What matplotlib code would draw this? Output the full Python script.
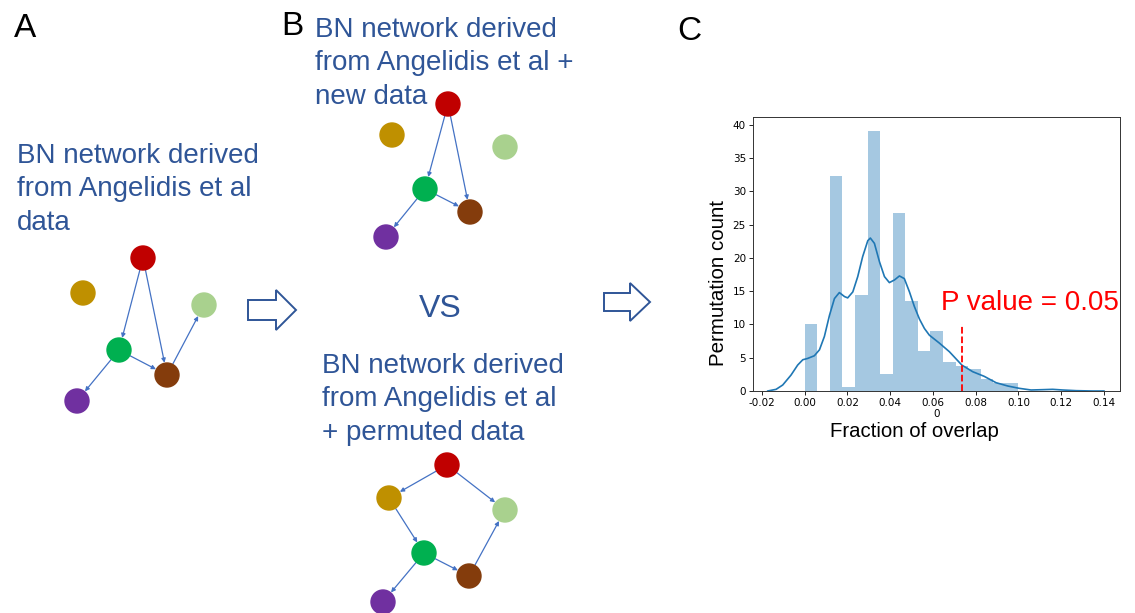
import numpy as np
import matplotlib
matplotlib.use("Agg")
import matplotlib.pyplot as plt
from matplotlib.patches import Circle, Polygon

# histogram (density)
bin_lo, bin_hi = 0.0, 0.1
bin_heights = [10.1, 0.0, 32.3, 0.65, 14.5, 39.1, 2.5, 26.8, 13.5, 6.0,
               9.0, 4.3, 3.7, 3.35, 1.85, 1.25, 1.25]
# kde curve
kde_x = [-0.0173, -0.0134, -0.0103, -0.0064, -0.0033, -0.0009, 0.0014, 0.0045,
         0.0069, 0.0092, 0.0116, 0.0139, 0.0162, 0.0186, 0.0201, 0.0225, 0.0248,
         0.0271, 0.0295, 0.0307, 0.0326, 0.0350, 0.0373, 0.0396, 0.0420, 0.0443,
         0.0466, 0.0490, 0.0513, 0.0537, 0.0560, 0.0583, 0.0630, 0.0677, 0.0735,
         0.0786, 0.0840, 0.0895, 0.0950, 0.1004, 0.1059, 0.1114, 0.1160, 0.1207,
         0.1270, 0.1347, 0.1400]
kde_y = [0, 0.25, 0.9, 2.4, 3.9, 4.7, 4.9, 5.3, 6.2, 8.2, 11.4, 13.9, 14.8, 14.2,
         14.0, 14.9, 17.2, 20.2, 22.6, 23.0, 22.2, 19.4, 17.2, 16.3, 16.7, 17.3,
         16.9, 14.9, 12.7, 10.8, 9.4, 8.4, 7.2, 5.9, 3.9, 2.9, 2.2, 1.25, 0.75,
         0.4, 0.15, 0.2, 0.25, 0.15, 0.05, 0, 0]
p_cut = 0.0735
p_cut_height = 10
x_ticks = [-0.02, 0.00, 0.02, 0.04, 0.06, 0.08, 0.10, 0.12, 0.14]
y_ticks = [0, 5, 10, 15, 20, 25, 30, 35, 40]

# network diagrams (node names, edges)
node_colors = {"red": "#C00000", "gold": "#BF9000", "lgreen": "#A9D18E",
               "green": "#00B050", "brown": "#843C0C", "purple": "#7030A0"}
net_a = {"red": (143, 258), "gold": (83, 293), "lgreen": (204, 305),
         "green": (119, 350), "brown": (167, 375), "purple": (77, 401)}
edges_a = [("red", "green"), ("red", "brown"), ("green", "brown"),
           ("green", "purple"), ("brown", "lgreen")]
net_b1 = {"red": (448, 104), "gold": (392, 135), "lgreen": (505, 147),
          "green": (425, 189), "brown": (470, 212), "purple": (386, 237)}
edges_b1 = [("red", "green"), ("red", "brown"), ("green", "brown"),
            ("green", "purple")]
net_b2 = {"red": (447, 465), "gold": (389, 498), "lgreen": (505, 510),
          "green": (424, 553), "brown": (469, 576), "purple": (383, 602)}
edges_b2 = [("red", "gold"), ("red", "lgreen"), ("gold", "green"),
            ("green", "brown"), ("green", "purple"), ("brown", "lgreen")]

text_a = ["BN network derived", "from Angelidis et al", "data"]
text_b1 = ["BN network derived", "from Angelidis et al +", "new data"]
text_b2 = ["BN network derived", "from Angelidis et al", "+ permuted data"]

blue_txt = "#2F5597"
edge_col = "#4472C4"
sans = ["Liberation Sans", "DejaVu Sans"]

fig = plt.figure(figsize=(11.35, 6.13), dpi=100)
bg = fig.add_axes([0, 0, 1, 1])
bg.set_xlim(0, 1135)
bg.set_ylim(613, 0)
bg.axis("off")

def draw_net(pos, edges):
    for a, b in edges:
        bg.annotate("", xy=pos[b], xytext=pos[a],
                    arrowprops=dict(arrowstyle="-|>", color=edge_col, lw=0.9,
                                    shrinkA=9, shrinkB=9, mutation_scale=6))
    for k, (x, y) in pos.items():
        bg.add_patch(Circle((x, y), 12, color=node_colors[k], zorder=3))

def draw_lines(lines, x, y0, step):
    for i, s in enumerate(lines):
        bg.text(x, y0 + i * step, s, fontsize=20, color=blue_txt, family=sans,
                va="baseline", ha="left")

def block_arrow(x0, x1, yc, body, head, hlen):
    xb = x1 - hlen
    pts = [(x0, yc - body), (xb, yc - body), (xb, yc - head), (x1, yc),
           (xb, yc + head), (xb, yc + body), (x0, yc + body)]
    bg.add_patch(Polygon(pts, closed=True, facecolor="white",
                         edgecolor=blue_txt, lw=1.4))

draw_net(net_a, edges_a)
draw_net(net_b1, edges_b1)
draw_net(net_b2, edges_b2)

draw_lines(text_a, 17, 163, 33.5)
draw_lines(text_b1, 315, 37, 33.5)
draw_lines(text_b2, 322, 373, 33.5)

bg.text(440, 317, "VS", fontsize=23, color=blue_txt, family=sans,
        ha="center", va="baseline")
for lab, x, y in [("A", 14, 37), ("B", 281, 35), ("C", 677, 40)]:
    bg.text(x, y, lab, fontsize=24, color="black", family=sans, va="baseline")

block_arrow(248, 296, 310, 10, 20, 20)
block_arrow(604, 650, 302, 9, 19, 20)

# panel C
ax = fig.add_axes([753 / 1135, (613 - 391) / 613, 367 / 1135, 274 / 613])
edges = np.linspace(bin_lo, bin_hi, len(bin_heights) + 1)
ax.bar(edges[:-1], bin_heights, width=np.diff(edges), align="edge",
       color="#1f77b4", alpha=0.4, lw=0)
ax.plot(kde_x, kde_y, color="#1f77b4", lw=1.2)
ax.plot([p_cut, p_cut], [0, p_cut_height], color="red", ls="--", lw=1.3)
ax.set_xlim(-0.0242, 0.1475)
ax.set_ylim(0, 41.2)
ax.set_xticks(x_ticks)
ax.set_xticklabels(["%.2f" % v for v in x_ticks])
ax.set_yticks(y_ticks)
ax.tick_params(labelsize=7.5, length=2.6, width=0.6, pad=2.5)
for s in ax.spines.values():
    s.set_linewidth(0.7)
    s.set_color("#333333")
ax.set_xlabel("0", fontsize=7.5, labelpad=1)

bg.set_zorder(ax.get_zorder() + 1)
bg.patch.set_visible(False)
bg.text(941, 310, "P value = 0.05", fontsize=20, color="red", family=sans,
        va="baseline")
bg.text(914, 437, "Fraction of overlap", fontsize=14.7, color="black",
        family=sans, ha="center", va="baseline")
bg.text(718, 283, "Permutation count", fontsize=14.8, color="black",
        family=sans, ha="center", va="center", rotation=90)

fig.savefig("out.png", dpi=100)
